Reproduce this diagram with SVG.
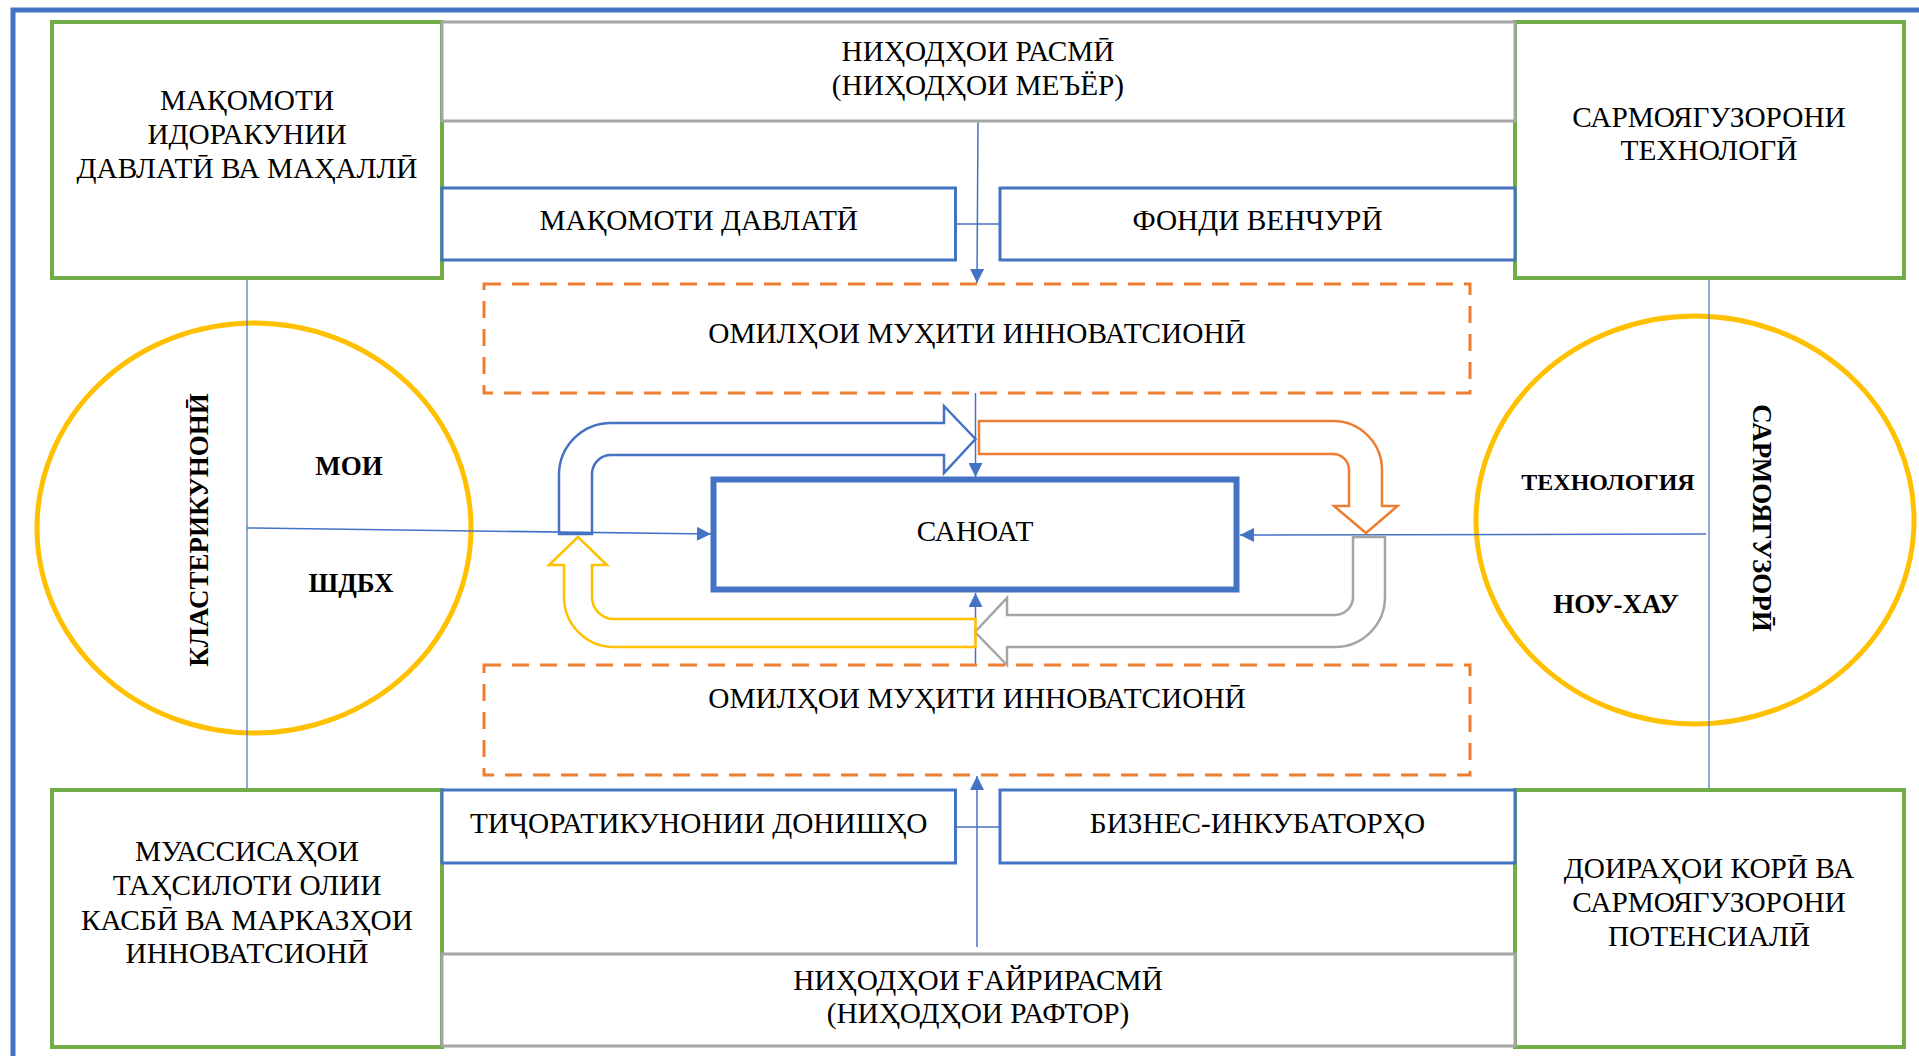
<svg xmlns="http://www.w3.org/2000/svg" width="1919" height="1056" viewBox="0 0 1919 1056">
<style>
text{font-family:"Liberation Serif","DejaVu Serif",serif;font-size:29.3px;fill:#000;text-anchor:middle}
.b{font-weight:bold;font-size:27px}
.green{fill:#fff;stroke:#70AD47;stroke-width:4}
.gray{fill:#fff;stroke:#A5A5A5;stroke-width:3}
.blue{fill:#fff;stroke:#4472C4;stroke-width:3}
.dash{fill:none;stroke:#ED7D31;stroke-width:3;stroke-dasharray:17 11}
.ring{fill:none;stroke:#FFC000;stroke-width:5}
.ln{fill:none;stroke:#4472C4;stroke-width:1.5}
.thin{fill:none;stroke:#4472C4;stroke-width:1.2}
.ua{stroke-width:2.5;fill:none;stroke-linejoin:miter}
</style>
<defs>
<marker id="ah" viewBox="0 0 10 10" refX="10" refY="5" markerWidth="15" markerHeight="14" markerUnits="userSpaceOnUse" orient="auto">
<path d="M0 0 L10 5 L0 10 Z" fill="#4472C4"/>
</marker>
</defs>
<path d="M13 1056 V10 H1919" fill="none" stroke="#4472C4" stroke-width="5"/>
<g id="circle-left">
<ellipse class="ring" cx="254" cy="528" rx="217" ry="205"/>
</g>
<g id="circle-right">
<ellipse class="ring" cx="1695" cy="520" rx="219" ry="204"/>
</g>
<g id="connectors">
<line class="thin" x1="247" y1="278" x2="247" y2="790"/>
<line class="thin" x1="1709" y1="278" x2="1709" y2="790"/>
<line class="ln" x1="247" y1="528" x2="711" y2="534" marker-end="url(#ah)"/>
<line class="ln" x1="1706" y1="534" x2="1240" y2="535" marker-end="url(#ah)"/>
<line class="ln" x1="978" y1="121" x2="977" y2="283" marker-end="url(#ah)"/>
<line class="ln" x1="977" y1="947" x2="977" y2="776" marker-end="url(#ah)"/>
<line class="ln" x1="975.5" y1="393" x2="975.5" y2="477" marker-end="url(#ah)"/>
<line class="ln" x1="975.5" y1="665" x2="975.5" y2="593" marker-end="url(#ah)"/>
<line class="ln" x1="955.5" y1="224" x2="1000" y2="224"/>
<line class="ln" x1="955.5" y1="827" x2="1000" y2="827"/>
</g>
<g id="node-tl">
<rect class="green" x="52" y="22" width="390" height="256"/>
<text x="247" y="110">МАҚОМОТИ</text>
<text x="247" y="144">ИДОРАКУНИИ</text>
<text x="247" y="178">ДАВЛАТӢ ВА МАҲАЛЛӢ</text>
</g>
<g id="node-tr">
<rect class="green" x="1515" y="22" width="389" height="256"/>
<text x="1709" y="127">САРМОЯГУЗОРОНИ</text>
<text x="1709" y="160">ТЕХНОЛОГӢ</text>
</g>
<g id="node-bl">
<rect class="green" x="52" y="790" width="390" height="257"/>
<text x="247" y="861">МУАССИСАҲОИ</text>
<text x="247" y="895">ТАҲСИЛОТИ ОЛИИ</text>
<text x="247" y="930">КАСБӢ ВА МАРКАЗҲОИ</text>
<text x="247" y="963">ИННОВАТСИОНӢ</text>
</g>
<g id="node-br">
<rect class="green" x="1515" y="790" width="389" height="257"/>
<text x="1709" y="878">ДОИРАҲОИ КОРӢ ВА</text>
<text x="1709" y="912">САРМОЯГУЗОРОНИ</text>
<text x="1709" y="946">ПОТЕНСИАЛӢ</text>
</g>
<g id="node-formal">
<rect class="gray" x="442" y="22" width="1073" height="99"/>
<text x="978" y="61">НИҲОДҲОИ РАСМӢ</text>
<text x="978" y="95">(НИҲОДҲОИ МЕЪЁР)</text>
</g>
<g id="node-informal">
<rect class="gray" x="442" y="954" width="1073" height="92"/>
<text x="978" y="990">НИҲОДҲОИ ҒАЙРИРАСМӢ</text>
<text x="978" y="1023">(НИҲОДҲОИ РАФТОР)</text>
</g>
<g id="node-state">
<rect class="blue" x="442" y="188" width="513.5" height="72"/>
<text x="698.75" y="230">МАҚОМОТИ ДАВЛАТӢ</text>
</g>
<g id="node-venture">
<rect class="blue" x="1000" y="188" width="515" height="72"/>
<text x="1257.5" y="230">ФОНДИ ВЕНЧУРӢ</text>
</g>
<g id="node-univ">
<rect class="blue" x="442" y="790" width="513.5" height="73"/>
<text x="698.75" y="833">ТИҶОРАТИКУНОНИИ ДОНИШҲО</text>
</g>
<g id="node-incub">
<rect class="blue" x="1000" y="790" width="515" height="73"/>
<text x="1257.5" y="833">БИЗНЕС-ИНКУБАТОРҲО</text>
</g>
<g id="node-env-top">
<rect class="dash" x="484" y="284" width="986" height="109"/>
<text x="977" y="343">ОМИЛҲОИ МУҲИТИ ИННОВАТСИОНӢ</text>
</g>
<g id="node-env-bottom">
<rect class="dash" x="484" y="665" width="986" height="110"/>
<text x="977" y="708">ОМИЛҲОИ МУҲИТИ ИННОВАТСИОНӢ</text>
</g>
<g id="node-industry">
<rect x="713.5" y="479.5" width="523" height="110" fill="#fff" stroke="#4472C4" stroke-width="6"/>
<text x="975" y="541">САНОАТ</text>
</g>
<g id="labels-left">
<text class="b" transform="translate(208,530) rotate(-90)">КЛАСТЕРИКУНОНӢ</text>
<text class="b" x="349" y="475">МОИ</text>
<text class="b" x="351" y="592">ШДБХ</text>
</g>
<g id="labels-right">
<text class="b" transform="translate(1753,518) rotate(90)">САРМОЯГУЗОРӢ</text>
<text class="b" x="1608" y="490" style="font-size:24px">ТЕХНОЛОГИЯ</text>
<text class="b" x="1616" y="613">НОУ-ХАУ</text>
</g>
<g id="cycle-arrows">
<path class="ua" stroke="#4472C4" d="M559 534 L559 475 A52 52 0 0 1 611 423 L944 423 L944 406 L975.5 439 L944 473 L944 455 L611 455 A19 19 0 0 0 592 474 L592 534 Z"/>
<path class="ua" stroke="#ED7D31" d="M979 421 L1333 421 A49 49 0 0 1 1382 470 L1382 506 L1397.5 506 L1366 533 L1334 506 L1349 506 L1349 470 A16 16 0 0 0 1333 454 L979 454 Z"/>
<path class="ua" stroke="#A5A5A5" d="M1353 537 L1385 537 L1385 597 A50 50 0 0 1 1335 647 L1007 647 L1007 665 L975 632 L1007 598 L1007 615 L1335 615 A18 18 0 0 0 1353 597 Z"/>
<path class="ua" stroke="#FFC000" d="M975.5 619 L975.5 647 L614 647 A50 50 0 0 1 564 597 L564 565 L549 565 L578 537 L607 565 L592 565 L592 597 A22 22 0 0 0 614 619 Z"/>
</g>
</svg>
